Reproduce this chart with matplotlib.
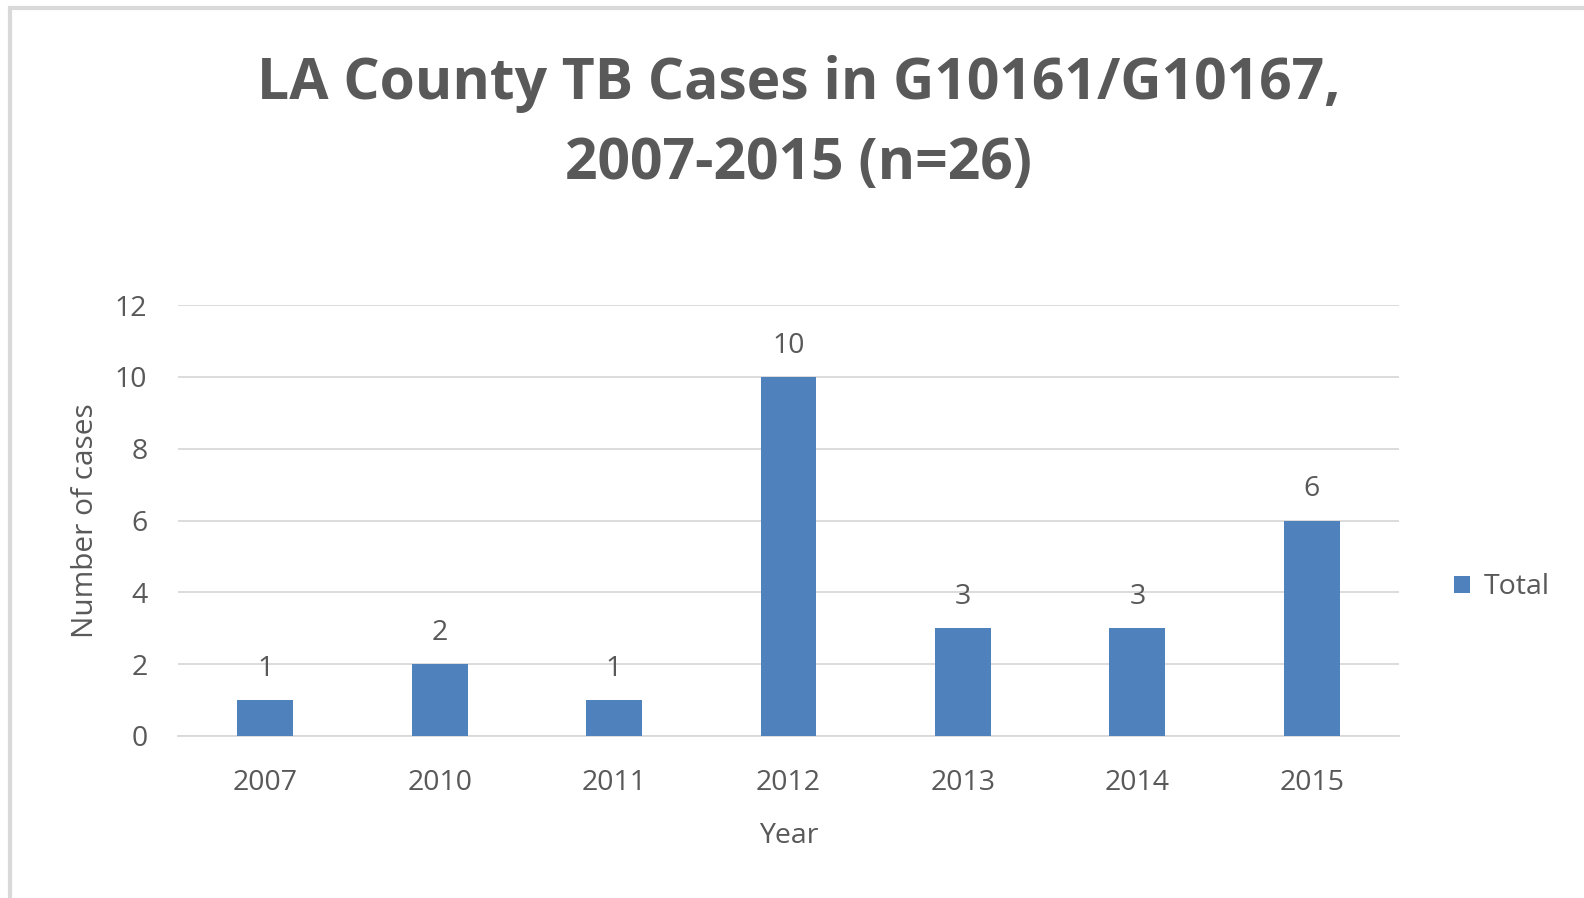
import matplotlib
matplotlib.use('Agg')
import matplotlib.pyplot as plt
from matplotlib.patches import Rectangle

# TB case counts by year
years = ["2007", "2010", "2011", "2012", "2013", "2014", "2015"]
cases = [1, 2, 1, 10, 3, 3, 6]
y_ticks = [0, 2, 4, 6, 8, 10, 12]

plt.rcParams['font.family'] = ['Open Sans', 'DejaVu Sans']
text_color = "#595959"
bar_color = "#4F81BD"
grid_color = "#D9D9D9"
fs = 20.5

fig = plt.figure(figsize=(15.84, 8.98), dpi=100)
fig.patch.set_facecolor("white")

# chart frame
fig.patches.append(Rectangle((9.5 / 1584, -0.05), 1.2, 1.05 - 7.5 / 898,
                             transform=fig.transFigure, fill=False,
                             edgecolor=grid_color, linewidth=3))

ax = fig.add_axes([178 / 1584, 1 - 736 / 898, (1399 - 178) / 1584, (736 - 305) / 898])
x = range(len(years))
bars = ax.bar(x, cases, width=0.32, color=bar_color, label="Total", zorder=3)

ax.set_ylim(0, 12)
ax.set_xlim(-0.5, len(years) - 0.5)
ax.set_yticks(y_ticks)
ax.set_xticks(list(x))
ax.set_xticklabels(years)
ax.tick_params(axis='both', length=0, labelsize=fs, colors=text_color)
ax.tick_params(axis='x', pad=24)
ax.tick_params(axis='y', pad=22)
ax.yaxis.grid(True, color=grid_color, linewidth=1.3, zorder=0)
for side in ["top", "right", "left"]:
    ax.spines[side].set_visible(False)
ax.spines["bottom"].set_color(grid_color)
ax.spines["bottom"].set_linewidth(1.3)

for rect, v in zip(bars, cases):
    ax.annotate(str(v), (rect.get_x() + rect.get_width() / 2, v),
                xytext=(0, 22.5), textcoords="offset points",
                ha="center", va="center", fontsize=fs, color=text_color)

ax.set_xlabel("Year", fontsize=fs, color=text_color, labelpad=18)
ax.set_ylabel("Number of cases", fontsize=21.5, color=text_color, labelpad=11)

fig.text(0.504, 1 - 124 / 898, "LA County TB Cases in G10161/G10167,\n2007-2015 (n=26)",
         ha="center", va="center", fontsize=41, fontweight="bold",
         color=text_color, linespacing=1.5)

ax.legend(loc="center left", bbox_to_anchor=(1.024, 0.345), frameon=False,
          fontsize=fs, labelcolor=text_color, handlelength=0.55,
          handleheight=0.55, handletextpad=0.5)

fig.savefig("out.png", dpi=100)
